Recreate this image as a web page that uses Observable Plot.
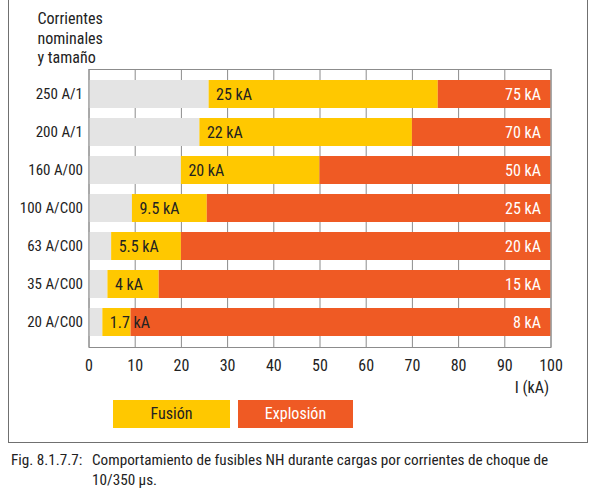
<!DOCTYPE html>
<html><head><meta charset="utf-8">
<script src="https://cdn.jsdelivr.net/npm/d3@7"></script>
<script src="https://cdn.jsdelivr.net/npm/@observablehq/plot@0.6"></script>
<style>
body{margin:0;background:#fff;font-family:Roboto,"DejaVu Sans Condensed",sans-serif;font-stretch:condensed;color:#222;}
#wrap{position:relative;width:600px;height:490px;overflow:hidden;}
#frame{position:absolute;left:8px;top:-4px;width:580px;height:447px;border:1.5px solid #707070;border-top:none;box-sizing:border-box;}
#chart{position:absolute;left:0;top:0;}
#chart svg{font-stretch:condensed;}
.lg{position:absolute;top:400px;height:28px;line-height:28px;text-align:center;font-size:16px;}
#cap1{position:absolute;left:11px;top:450px;font-size:15.2px;line-height:20px;white-space:nowrap;}
#cap2{position:absolute;left:92px;top:450px;font-size:15.2px;line-height:20px;white-space:nowrap;}
</style>
</head><body>
<div id="wrap">
  <div id="frame"></div>
  <div id="chart"></div>
  <div id="legend"></div>
  <div id="cap1">Fig. 8.1.7.7:</div>
  <div id="cap2">Comportamiento de fusibles NH durante cargas por corrientes de choque de<br>10/350 µs.</div>
</div>
<script>
const categories = ["250 A/1","200 A/1","160 A/00","100 A/C00","63 A/C00","35 A/C00","20 A/C00"];
const fusionLabels = ["25 kA","22 kA","20 kA","9.5 kA","5.5 kA","4 kA","1.7 kA"];
const explosionLabels = ["75 kA","70 kA","50 kA","25 kA","20 kA","15 kA","8 kA"];
const fusionStart = [26, 24, 20, 9.4, 4.9, 4.1, 3.0];
const explosionStart = [75.6, 70, 50, 25.6, 20, 15.2, 9.1];
const xTicks = [0,10,20,30,40,50,60,70,80,90,100];
const legendNames = ["Fusión","Explosión"];
const colors = {gray:"#e4e4e4", fusion:"#ffc800", explosion:"#ef5a24"};

const FONT = 'Roboto,"DejaVu Sans Condensed",sans-serif';
const FS = 16;
const rows = categories.map((c,i)=>({cat:c, f0:fusionStart[i], e0:explosionStart[i], fl:fusionLabels[i], el:explosionLabels[i]}));

const chart = Plot.plot({
  width:600, height:400,
  marginLeft:88.5, marginRight:49.5, marginTop:69, marginBottom:53,
  style:{fontFamily:FONT, fontSize:FS+"px", color:"#222", background:"transparent", overflow:"visible"},
  x:{domain:[0,100]},
  y:{domain:categories, paddingInner:0.27, paddingOuter:0.255},
  marks:[
    Plot.gridX(xTicks,{stroke:"#8c8c8c", strokeOpacity:1, strokeWidth:1}),
    Plot.barX(rows,{y:"cat", x1:d=>0, x2:"f0", fill:colors.gray}),
    Plot.barX(rows,{y:"cat", x1:"f0", x2:"e0", fill:colors.fusion}),
    Plot.barX(rows,{y:"cat", x1:"e0", x2:d=>100, fill:colors.explosion}),
    Plot.frame({stroke:"#8c8c8c", strokeWidth:1}),
    Plot.axisX({ticks:xTicks, tickSize:0, tickPadding:12, label:null, fontSize:FS}),
    Plot.axisY({tickSize:0, tickPadding:6, label:null, fontSize:15}),
    Plot.text(rows,{x:"f0", y:"cat", text:"fl", dx:7, textAnchor:"start", fill:"#222", fontSize:FS}),
    Plot.text(rows,{x:d=>100, y:"cat", text:"el", dx:-10, textAnchor:"end", fill:"#fff", fontSize:FS}),
    Plot.text(["I (kA)"],{frameAnchor:"bottom-right", dx:-2, dy:45, textAnchor:"end", fontSize:FS}),
    Plot.text(["Corrientes\nnominales\ny tamaño"],{frameAnchor:"top-left", dx:-51.5, dy:-59, textAnchor:"start", lineAnchor:"top", lineHeight:1.22, fontSize:FS})
  ]
});
document.getElementById("chart").appendChild(chart);

const lg = document.getElementById("legend");
const lgPos = [{left:113,width:117,bg:colors.fusion,fg:"#222"},{left:238,width:115,bg:colors.explosion,fg:"#fff"}];
legendNames.forEach((n,i)=>{
  const d=document.createElement("div");
  d.className="lg";
  d.style.left=lgPos[i].left+"px"; d.style.width=lgPos[i].width+"px";
  d.style.background=lgPos[i].bg; d.style.color=lgPos[i].fg;
  d.textContent=n; lg.appendChild(d);
});
</script>
</body></html>
